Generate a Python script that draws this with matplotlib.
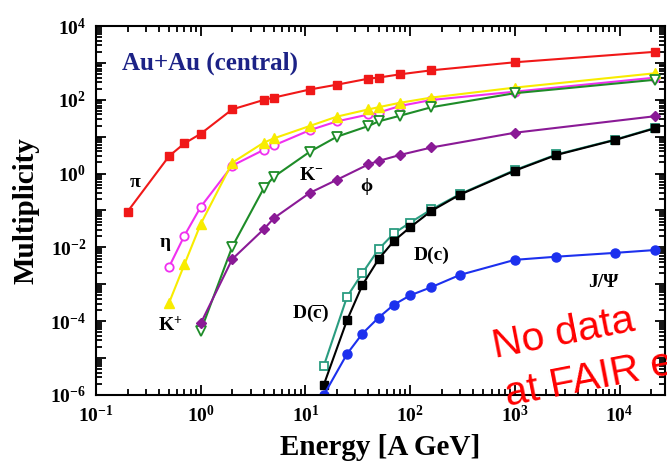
"""hadron multiplicities in central Au+Au vs beam energy"""
import matplotlib
matplotlib.use("Agg")
import matplotlib.pyplot as plt
from matplotlib.ticker import LogLocator, FixedLocator, FixedFormatter, NullFormatter

plt.rcParams['font.family'] = 'Liberation Serif'
plt.rcParams['mathtext.fontset'] = 'custom'
plt.rcParams['mathtext.rm'] = 'Liberation Serif:bold'
plt.rcParams['mathtext.bf'] = 'Liberation Serif:bold'
plt.rcParams['mathtext.it'] = 'Liberation Serif:bold'

# beam energies [A GeV]
e_light = [0.5, 0.7, 1.0, 2.0, 4.0, 5.0, 11, 20, 40, 50, 80, 160, 1000, 22000]
e_pi = [0.2] + e_light
e_strange = [1.0, 2.0, 4.0, 5.0, 11, 20, 40, 50, 80, 160, 1000, 22000]
e_charm = [15, 25, 35, 50, 70, 100, 160, 300, 1000, 2500, 9000, 22000]

pi_mult = [0.093, 3.0, 6.6, 12, 55, 99, 115, 190, 257, 374, 400, 490, 630, 1040, 2000]
eta_mult = [0.003, 0.021, 0.125, 1.64, 4.4, 5.8, 15, 26, 40, 45, 68, 99, 166, 400]
kplus_mult = [3.2e-4, 0.0035, 0.043, 1.97, 6.9, 9.0, 19.5, 35, 55, 63, 83, 115, 214, 525]
kminus_mult = [5.4e-5, 0.0104, 0.40, 0.82, 3.9, 10, 19.5, 26, 37, 63, 151, 350]
phi_mult = [8.7e-5, 0.0048, 0.031, 0.062, 0.30, 0.68, 1.78, 2.2, 3.2, 5.1, 12.8, 36]
dc_mult = [1.9e-6, 1.07e-4, 9.5e-4, 0.0048, 0.015, 0.035, 0.098, 0.27, 1.2, 3.2, 8.1, 17]
dcbar_mult = [6.2e-6, 4.6e-4, 2.0e-3, 0.0089, 0.024, 0.047, 0.107, 0.28, 1.25, 3.3, 8.3, 17.5]
jpsi_mult = [1.0e-6, 1.3e-5, 4.6e-5, 1.25e-4, 2.8e-4, 5.0e-4, 8.4e-4, 1.8e-3, 4.6e-3, 5.6e-3, 7.1e-3, 8.5e-3]

fig = plt.figure(figsize=(6.67, 4.69), dpi=100)
ax = fig.add_axes([96 / 667, 74 / 469, 569 / 667, 369 / 469])

lw, ms = 1.5, 6
ax.plot(e_pi, pi_mult, color='#f01818', marker='s', lw=lw, ms=ms)
ax.plot(e_light, eta_mult, color='#f030f0', marker='o', mfc='white', mew=1.3, lw=lw, ms=ms)
ax.plot(e_light, kplus_mult, color='#f8ec00', marker='^', lw=lw, ms=ms + 1)
ax.plot(e_strange, kminus_mult, color='#1e8c28', marker='v', mfc='white', mew=1.3, lw=lw, ms=ms + 1)
ax.plot(e_strange, phi_mult, color='#8a1a96', marker='D', lw=lw, ms=ms - 0.5)
ax.plot(e_charm, dcbar_mult, color='#2a9c80', marker='s', mfc='white', mew=1.3, lw=lw, ms=ms)
ax.plot(e_charm, dc_mult, color='black', marker='s', lw=lw, ms=ms)
ax.plot(e_charm, jpsi_mult, color='#1c30ee', marker='o', lw=lw, ms=ms + 0.5)

ax.set_xscale('log')
ax.set_yscale('log')
ax.set_xlim(0.1, 2.72e4)
ax.set_ylim(1e-6, 1e4)

# ticks inside on every side
ax.tick_params(which='both', direction='in', top=True, right=True, width=1.3)
ax.tick_params(which='major', length=7, pad=7, labelsize=14)
ax.tick_params(which='minor', length=4)
ax.xaxis.set_major_locator(FixedLocator([10.0 ** k for k in range(-1, 5)]))
ax.xaxis.set_major_formatter(FixedFormatter([r'$\mathbf{10^{%d}}$' % k for k in range(-1, 5)]))
ax.xaxis.set_minor_locator(LogLocator(base=10, subs=range(2, 10), numticks=20))
ax.xaxis.set_minor_formatter(NullFormatter())
ax.yaxis.set_major_locator(FixedLocator([10.0 ** k for k in range(-6, 5)]))
ax.yaxis.set_major_formatter(FixedFormatter(
    [r'$\mathbf{10^{%d}}$' % k if k % 2 == 0 else '' for k in range(-6, 5)]))
ax.yaxis.set_minor_locator(LogLocator(base=10, subs=range(2, 10), numticks=20))
ax.yaxis.set_minor_formatter(NullFormatter())
for spine in ax.spines.values():
    spine.set_linewidth(1.5)

ax.set_xlabel('Energy [A GeV]', fontsize=21, fontweight='bold', labelpad=6)
ax.set_ylabel('Multiplicity', fontsize=21, fontweight='bold', labelpad=8)

lab = dict(fontsize=14, fontweight='bold', ha='center', va='center')
ax.text(0.236, 0.56, 'π', **lab)
ax.text(0.456, 0.014, 'η', **lab)
ax.text(0.51, 7.9e-5, r'K$^{+}$', **lab)
ax.text(11.3, 0.91, r'K$^{-}$', **lab)
ax.text(38, 0.46, 'ϕ', **lab)
ax.text(162, 0.0061, 'D(c)', **lab)
ax.text(11.3, 1.66e-4, r'D($\mathbf{\overline{c}}$)', **lab)
ax.text(6950, 1.1e-3, 'J/Ψ', **lab)
ax.text(0.046, 0.90, 'Au+Au (central)', transform=ax.transAxes, fontsize=18,
        fontweight='bold', color='#1c2286', ha='left', va='center')

red = dict(fontsize=29.5, color='#ff0000', family='Liberation Sans', rotation=11,
           rotation_mode='anchor', ha='left', va='baseline')
fig.text(495 / 667, 1 - 358 / 469, 'No data', **red)
fig.text(507 / 667, 1 - 406 / 469, 'at FAIR energies', **red)

fig.savefig('out.png', dpi=100)
